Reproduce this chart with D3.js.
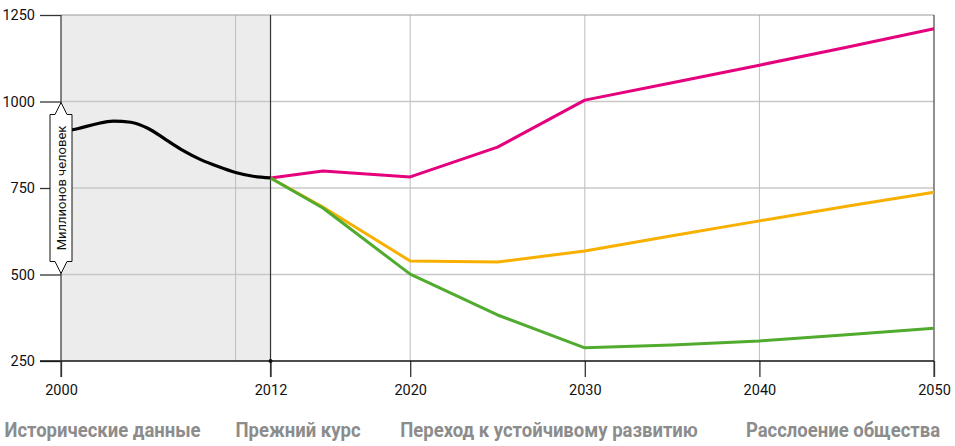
<!DOCTYPE html>
<html>
<head>
<meta charset="utf-8">
<script src="https://cdn.jsdelivr.net/npm/d3@7"></script>
<style>
  body { margin: 0; background: #fff; }
  svg { display: block; }
  .tick-label { font-family: "Roboto", "DejaVu Sans Condensed", sans-serif; font-size: 14.5px; fill: #111; }
  .cat { font-family: "Roboto", "DejaVu Sans Condensed", sans-serif; font-size: 18.5px; font-weight: bold; fill: #8c8c8c; }
</style>
</head>
<body>
<div id="chart"></div>
<script>
// historical data, 2000-2012
var histYears = [2000, 2001, 2002, 2003, 2004, 2005, 2006, 2007, 2008, 2009, 2010, 2011, 2012];
var histValues = [912, 922, 935, 943, 940, 922, 890, 858, 832, 812, 795, 784, 779];

// scenarios
var scenYears = [2012, 2015, 2020, 2025, 2030, 2035, 2040, 2045, 2050];
var magenta = [779, 799, 782, 868, 1004, 1054, 1105, 1157, 1210];
var orange  = [779, 695, 539, 536, 568, 612, 655, 697, 738];
var green   = [779, 692, 501, 383, 288, 296, 308, 326, 345];

var xTicks = [2000, 2012, 2020, 2030, 2040, 2050];
var yTicks = [250, 500, 750, 1000, 1250];
var xGrid = [2010, 2020, 2030, 2040];
var yGrid = [500, 750, 1000];

var categories = ["Исторические данные", "Прежний курс", "Переход к устойчивому развитию", "Расслоение общества"];
var catPos = [102.5, 298, 549, 843];
var yLabel = "Миллионов человек";

var width = 955, height = 446;

var svg = d3.select("#chart")
  .append("svg")
    .attr("width", width)
    .attr("height", height);

var x = d3.scaleLinear().domain([2000, 2050]).range([61, 934]);
var y = d3.scaleLinear().domain([250, 1250]).range([361, 15]);

// shaded history area
svg.append("rect")
  .attr("x", x(2000))
  .attr("y", y(1250))
  .attr("width", x(2012) - x(2000))
  .attr("height", y(250) - y(1250))
  .attr("fill", "#ececec");

// grid
svg.selectAll(".hgrid")
  .data(yGrid)
  .enter()
  .append("line")
  .attr("x1", x(2000)).attr("x2", x(2050))
  .attr("y1", function(d) { return y(d); })
  .attr("y2", function(d) { return y(d); })
  .attr("stroke", "#c8c8c8")
  .attr("stroke-width", 1.5);

svg.selectAll(".vgrid")
  .data(xGrid)
  .enter()
  .append("line")
  .attr("x1", function(d) { return x(d); })
  .attr("x2", function(d) { return x(d); })
  .attr("y1", y(1250)).attr("y2", y(250))
  .attr("stroke", "#bdbdbd")
  .attr("stroke-width", 1);

// top border
svg.append("line")
  .attr("x1", x(2000)).attr("x2", x(2050))
  .attr("y1", y(1250)).attr("y2", y(1250))
  .attr("stroke", "#9a9a9a")
  .attr("stroke-width", 1);

// right border
svg.append("line")
  .attr("x1", x(2050)).attr("x2", x(2050))
  .attr("y1", y(1250)).attr("y2", y(250) + 16)
  .attr("stroke", "#555")
  .attr("stroke-width", 1.3);

// left axis ticks
var yAxis = svg.append("g")
  .attr("transform", "translate(" + x(2000) + ",0)")
  .call(d3.axisLeft(y).tickValues(yTicks).tickSize(21).tickPadding(6).tickFormat(d3.format("d")));
yAxis.select(".domain").remove();
yAxis.selectAll("line").attr("stroke", "#333").attr("stroke-width", 1.3);
yAxis.selectAll("text").attr("class", "tick-label").attr("text-anchor", "end").attr("x", -26);

// bottom axis
var xAxis = svg.append("g")
  .attr("transform", "translate(0," + y(250) + ")")
  .call(d3.axisBottom(x).tickValues(xTicks).tickSize(16).tickPadding(8).tickFormat(d3.format("d")));
xAxis.select(".domain").remove();
xAxis.selectAll("line").attr("stroke", "#333").attr("stroke-width", 1.3);
xAxis.selectAll("text").attr("class", "tick-label");

svg.append("line")
  .attr("x1", 40).attr("x2", x(2050))
  .attr("y1", y(250)).attr("y2", y(250))
  .attr("stroke", "#111")
  .attr("stroke-width", 1.3);

// vertical lines at 2000 and 2012
svg.selectAll(".vmark")
  .data([2000, 2012])
  .enter()
  .append("line")
  .attr("x1", function(d) { return x(d); })
  .attr("x2", function(d) { return x(d); })
  .attr("y1", y(1250)).attr("y2", y(250) + 16)
  .attr("stroke", "#333")
  .attr("stroke-width", 1.2);

svg.append("circle")
  .attr("cx", x(2012)).attr("cy", y(250))
  .attr("r", 2)
  .attr("fill", "#111");

// lines
var line = d3.line()
  .x(function(d) { return x(d[0]); })
  .y(function(d) { return y(d[1]); });

var scenarios = [
  {values: magenta, color: "#e5007d"},
  {values: orange, color: "#f8b000"},
  {values: green, color: "#50ab2f"}
];

svg.selectAll(".scen")
  .data(scenarios)
  .enter()
  .append("path")
  .attr("d", function(s) { return line(d3.zip(scenYears, s.values)); })
  .attr("fill", "none")
  .attr("stroke", function(s) { return s.color; })
  .attr("stroke-width", 3)
  .attr("stroke-linejoin", "round");

svg.append("path")
  .attr("d", line.curve(d3.curveMonotoneX)(d3.zip(histYears, histValues)))
  .attr("fill", "none")
  .attr("stroke", "#000")
  .attr("stroke-width", 3.2);

// y label callout
var cx = x(2000), yTop = y(1000), yBot = y(500);
var bx0 = cx - 11, bx1 = cx + 11, by0 = yTop + 13, by1 = yBot - 13;
var callout = "M" + bx0 + "," + by0 +
  " L" + (cx - 6) + "," + by0 +
  " L" + cx + "," + (yTop + 1) +
  " L" + (cx + 6) + "," + by0 +
  " L" + bx1 + "," + by0 +
  " L" + bx1 + "," + by1 +
  " L" + (cx + 6) + "," + by1 +
  " L" + cx + "," + (yBot - 1) +
  " L" + (cx - 6) + "," + by1 +
  " L" + bx0 + "," + by1 + " Z";
svg.append("path")
  .attr("d", callout)
  .attr("fill", "#fff")
  .attr("stroke", "#111")
  .attr("stroke-width", 1);

svg.append("text")
  .attr("transform", "translate(" + (cx + 4.5) + "," + ((yTop + yBot) / 2) + ")rotate(-90)")
  .attr("text-anchor", "middle")
  .attr("class", "tick-label")
  .style("font-size", "13px")
  .text(yLabel);

// category labels (stretched a bit vertically, like the condensed original)
svg.selectAll(".cat")
  .data(categories)
  .enter()
  .append("text")
  .attr("class", "cat")
  .attr("transform", function(d, i) { return "translate(" + catPos[i] + ",437)scale(1,1.1)"; })
  .attr("text-anchor", "middle")
  .text(function(d) { return d; });
</script>
</body>
</html>
